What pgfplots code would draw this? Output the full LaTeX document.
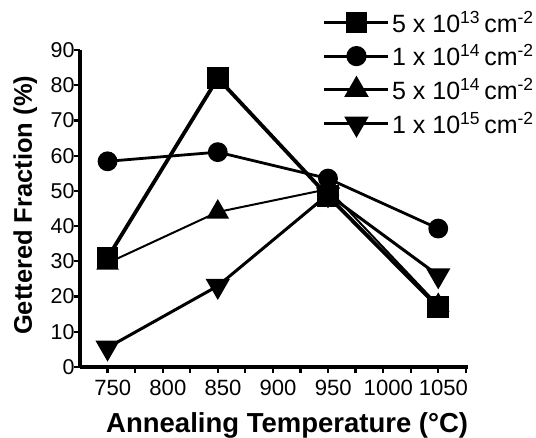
\documentclass[border=0pt]{standalone}
\usepackage{fontspec}
\setmainfont{Liberation Sans}
\usepackage{pgfplots}
\pgfplotsset{compat=1.18}

\begin{document}
\begin{tikzpicture}
\begin{axis}[
    scale only axis,
    width=388pt, height=317pt,
    xmin=725, xmax=1077,
    ymin=0, ymax=90,
    axis lines=left,
    axis line style={line width=3.2pt, -},
    xtick={750,800,...,1050},
    minor xtick={775,825,...,1075},
    ytick={0,10,...,90},
    tick align=outside,
    major tick length=6pt,
    minor tick length=6pt,
    every tick/.style={black, line width=2.2pt},
    /pgf/number format/assume math mode=true,
    /pgf/number format/1000 sep={},
    xticklabel={\pgfmathprintnumber{\tick}},
    yticklabel={\pgfmathprintnumber{\tick}},
    xticklabel style={font=\fontsize{17}{18}\selectfont, scale=1.3, yshift=-2pt, xshift=4pt},
    yticklabel style={font=\fontsize{16.5}{18}\selectfont, scale=1.3, xshift=4pt},
    xlabel={\textbf{Annealing Temperature (°C)}},
    ylabel={\textbf{Gettered Fraction (\%)}},
    xlabel style={font=\fontsize{27.5}{28}\selectfont, inner sep=0pt,
        at={(axis description cs:0.534,-0.208)}, anchor=base},
    ylabel style={font=\fontsize{25.5}{26}\selectfont, inner sep=0pt,
        at={(axis description cs:-0.172,0.51)}, anchor=north},
    legend style={
        at={(axis description cs:1.175,1.13)}, anchor=north east,
        draw=none, fill=none, inner sep=0pt,
        font=\fontsize{25}{26}\selectfont,
        row sep=7pt,
        legend cell align=left,
    },
    legend image code/.code={
        \draw[#1, line width=3.2pt, mark repeat=2, mark phase=2]
            plot coordinates {(0pt,0pt) (32pt,0pt) (64pt,0pt)};
    },
]
\addplot[black, line width=3.8pt, mark=square*, mark size=9pt] coordinates {
    (750,31) (850,82) (950,48.5) (1050,17)
};
\addplot[black, line width=2.8pt, mark=*, mark size=8.5pt] coordinates {
    (750,58.4) (850,61) (950,53.5) (1050,39.3)
};
\addplot[black, line width=2pt, mark=triangle*, mark size=11pt] coordinates {
    (750,29.5) (850,44) (950,50.5) (1050,17.5)
};
\addplot[black, line width=3pt, mark=triangle*, mark options={rotate=180}, mark size=11pt] coordinates {
    (750,5.5) (850,23) (950,49) (1050,26)
};
\legend{5 x 10\textsuperscript{13}\,cm\textsuperscript{-2},
        1 x 10\textsuperscript{14}\,cm\textsuperscript{-2},
        5 x 10\textsuperscript{14}\,cm\textsuperscript{-2},
        1 x 10\textsuperscript{15}\,cm\textsuperscript{-2}}
\end{axis}
\pgfresetboundingbox
\path (-80pt,-71pt) rectangle (456pt,367pt);
\end{tikzpicture}
\end{document}
